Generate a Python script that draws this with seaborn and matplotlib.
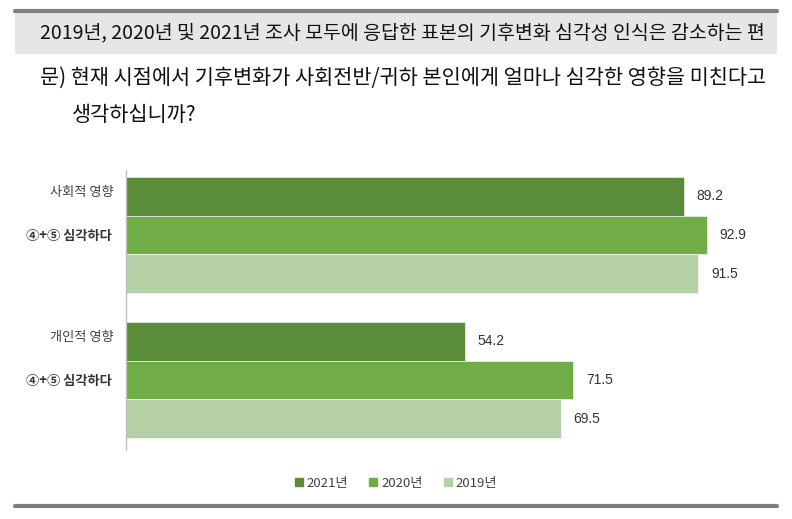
import numpy as np
import pandas as pd
import matplotlib.pyplot as plt
import seaborn as sns
from matplotlib.patches import Rectangle
from matplotlib.lines import Line2D
from matplotlib.transforms import offset_copy

sns.set_style('white')
plt.rcParams['font.family'] = ['Noto Sans CJK KR', 'DejaVu Sans']

# data
groups = ['사회적 영향', '개인적 영향']
years = ['2021년', '2020년', '2019년']
vals_2021 = [89.2, 54.2]
vals_2020 = [92.9, 71.5]
vals_2019 = [91.5, 69.5]
colors = ['#5b8c3a', '#70ad47', '#b5cfa7']

title1 = '2019년, 2020년 및 2021년 조사 모두에 응답한 표본의 기후변화 심각성 인식은 감소하는 편'
question1 = '문) 현재 시점에서 기후변화가 사회전반/귀하 본인에게 얼마나 심각한 영향을 미친다고'
question2 = '생각하십니까?'
sub_label = '④+⑤ 심각하다'

rows = []
for y, v in zip(years, [vals_2021, vals_2020, vals_2019]):
    for g, x in zip(groups, v):
        rows.append({'group': g, 'year': y, 'value': x})
df = pd.DataFrame(rows)

fig = plt.figure(figsize=(7.92, 5.19), dpi=100)
ax = fig.add_axes([126/792, 1-450/519, 650/792, 280/519])

sns.barplot(data=df, x='value', y='group', hue='year', hue_order=years,
            palette=colors, orient='h', width=0.8, ax=ax,
            edgecolor='white', linewidth=0.4, saturation=1)

for c in ax.containers:
    ax.bar_label(c, fmt='%.1f', padding=9, fontsize=10, color='#333333',
                 family=['Liberation Sans', 'DejaVu Sans'])

ax.set_xlim(0, 103.9)
ax.set_ylim(1.483, -0.448)
ax.set_xticks([])
ax.set_xlabel('')
ax.set_ylabel('')
ax.set_yticks([0, 1])
ax.set_yticklabels([sub_label, sub_label], fontsize=9.5, fontweight='bold', color='#333333')
ax.tick_params(axis='y', length=0, pad=10)
for s in ['top', 'right', 'bottom']:
    ax.spines[s].set_visible(False)
ax.spines['left'].set_color('#bfbfbf')
ax.spines['left'].set_linewidth(1)

grp_tr = offset_copy(ax.get_yaxis_transform(), fig=fig, x=-12, y=0, units='dots')
for i, g in enumerate(groups):
    ax.text(0, i - 0.29, g, transform=grp_tr, ha='right',
            va='center', fontsize=9.5, color='#404040')

ax.get_legend().remove()
handles = [Rectangle((0, 0), 1, 1, color=c) for c in colors]
fig.legend(handles, years, loc='center', bbox_to_anchor=(0.5, 1-483/519), ncol=3,
           frameon=False, fontsize=9.5, handlelength=0.6, handleheight=0.6,
           handletextpad=0.3, columnspacing=1.6, labelcolor='#404040')

# header band and rules
fig.patches.append(Rectangle((15/792, 1-54/519), 762/792, 42/519, transform=fig.transFigure,
                             facecolor='#e6e6e6', edgecolor='none', zorder=0))
fig.lines.append(Line2D([15/792, 777/792], [1-11/519, 1-11/519], transform=fig.transFigure,
                        color='#7f7f7f', linewidth=3))
fig.lines.append(Line2D([15/792, 777/792], [1-506/519, 1-506/519], transform=fig.transFigure,
                        color='#7f7f7f', linewidth=3))

fig.text(40/792, 1-33/519, title1, fontsize=14, va='center', ha='left', color='#111111')
fig.text(40/792, 1-78/519, question1, fontsize=15, va='center', ha='left', color='#111111')
fig.text(72/792, 1-115/519, question2, fontsize=15, va='center', ha='left', color='#111111')

fig.savefig('out.png', dpi=100)
